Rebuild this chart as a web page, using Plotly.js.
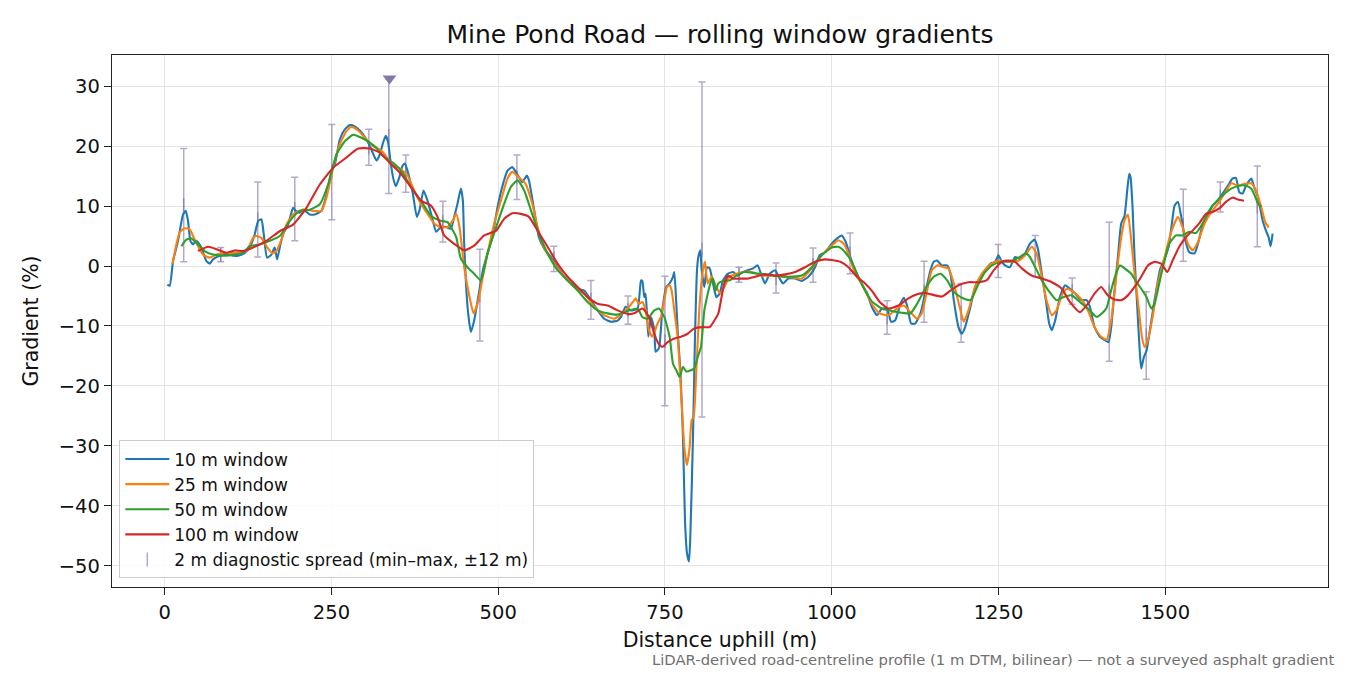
<!DOCTYPE html>
<html>
<head>
<meta charset="utf-8">
<script src="https://cdn.plot.ly/plotly-3.0.1.min.js"></script>
<style>
  html, body { margin:0; padding:0; background:#fff; }
  #chart { width:1350px; height:675px; }
</style>
</head>
<body>
<div id="chart"></div>
<script>
// ── Rolling-window gradient series (distance m, gradient %) ──────────────────
const w10x = [4,7.5,12.5,20,27.5,31.5,35,38.5,42.5,47.5,55,62.5,67.5,72.5,82.5,92.5,102.5,110,120,127.5,135,140,145,148.5,153.5,160,165,168.5,172.5,177.5,185,192.5,196.5,202.5,207.5,217.5,225,235,242.5,250,255,262.5,270,277.5,285,292.5,302.5,310,317.5,322.5,327.5,331.5,335,338.5,342.5,346.5,351.5,356.5,360,364,372,378,382,388,394,402,407,414,422,429,434,439,444,447,449,454,459,464,470,477,484,491,499,506,514,521,528,536,543,546,554,561,569,579,589,599,609,619,629,639,649,659,669,679,684,691,699,709,714,716,719,721,725,729,734,736,741,746,752,757,762,764,767,769,773,777,780,783,786,788,792,795,798,800,803,805,809,813,817,822,827,832,837,844,852,859,867,874,882,889,894,900,907,915,922,927,935,945,955,965,975,982,990,1000,1008,1015,1021,1028,1035,1045,1053,1060,1068,1075,1083,1089,1095,1103,1108,1113,1119,1125,1133,1140,1148,1153,1158,1165,1173,1178,1183,1190,1195,1200,1208,1215,1223,1230,1238,1245,1250,1255,1260,1267,1275,1282,1290,1297,1304,1309,1315,1321,1326,1330,1335,1342,1350,1357,1365,1374,1382,1387,1394,1402,1410,1415,1419,1424,1429,1434,1439,1443,1446,1448,1451,1454,1458,1462,1464,1468,1472,1477,1484,1492,1499,1505,1510,1514,1519,1524,1530,1536,1544,1549,1556,1564,1571,1579,1586,1594,1601,1606,1611,1616,1621,1629,1634,1639,1646,1651,1655,1658,1661];
const w10y = [-3.1,-3.3,0.8,4.2,8.6,9.2,7.5,4.2,3.6,4.2,3.1,0.8,0.4,1.1,1.7,1.9,1.7,1.7,2.2,3.1,5.3,7.5,7.8,5.3,1.4,1.9,3.1,1.1,3.1,5.3,6.9,9.7,9.2,8.9,9.4,8.6,8.6,9.2,11.9,15.8,16.9,21.1,22.8,23.5,23.3,22.6,21.1,19.4,17.6,18.6,20.6,21.7,20.6,17.5,14.7,13.3,14.7,16.7,17.1,15.9,12.1,8.2,9.3,12.6,10.9,7.6,5.7,6.5,6.5,6.2,8.2,10.4,12.9,10.9,3.7,-6.8,-11,-9.1,-5.2,-0.7,2.1,4.8,9.8,13.2,15.9,16.5,15.4,14.0,15.1,14.3,9.3,4.8,2.9,1.5,-0.2,-1.8,-2.9,-3.8,-4.1,-5.7,-7.4,-8.8,-9.3,-9.1,-8.5,-6.8,-7.4,-7.1,-2.4,-2.5,-5.2,-4.6,-11.8,-8.5,-10.7,-14.3,-13.7,-7.4,-3.5,-2.9,-1.8,-1.0,-6.3,-10.7,-17.4,-28.5,-42.4,-47.9,-49.3,-45.2,-28.5,-11.8,-0.7,1.5,2.6,-0.7,-3.5,-0.2,-0.4,-2.9,-5.2,-4.6,-2.4,-1.3,-1.0,-1.6,-1.0,-0.7,-0.4,0.1,-1.3,-2.9,-1.3,-0.7,-2.1,-2.9,-2.1,-2.1,-2.5,-1.8,-0.2,1.8,2.3,3.7,4.6,5.1,4.0,1.5,-0.7,-3.0,-4.5,-6.8,-8.2,-7.1,-7.1,-9.3,-9.1,-6.3,-5.3,-6.6,-9.6,-9.6,-7.9,-4.6,-0.7,0.7,0.9,0.1,0.1,-1.3,-5.7,-10.2,-11.3,-10.2,-6.8,-3.5,-1.8,-0.7,0.4,0.7,1.8,0.7,0.1,-0.2,1.5,1.2,2.1,3.7,4.4,2.9,-1.3,-5.7,-9.6,-10.7,-9.1,-5.2,-3.2,-3.8,-4.6,-5.7,-5.7,-6.8,-10.2,-11.8,-12.4,-12.7,-10.2,-4.1,1.5,7.1,8.4,12.6,15.4,14.8,9.8,1.5,-6.8,-14.6,-17.1,-15.2,-14.1,-10.7,-5.7,-0.7,1.2,3.2,7.1,10.1,10.7,8.2,4.3,2.3,2.1,3.7,6.8,8.4,10.1,10.9,12.1,13.4,14.6,14.7,12.3,12.1,13.4,14.6,12.9,11.5,7.6,5.9,4.8,3.3,5.4];

const w25x = [11.5,17.5,22.5,30,37.5,42.5,50,57.5,67.5,77.5,92.5,107.5,122.5,132.5,137.5,145,152.5,161.5,167.5,175,182.5,192.5,202.5,212.5,222.5,235,242.5,252.5,262.5,272.5,280,290,302.5,312.5,322.5,330,340,352.5,364,374,384,394,404,414,424,432,437,442,449,457,463,469,477,484,494,504,514,521,531,541,551,559,569,584,599,614,629,644,659,674,686,694,704,706,711,716,721,726,731,739,744,748,753,757,760,764,769,774,779,783,787,790,793,797,802,807,810,814,820,827,833,839,847,857,867,880,895,910,925,940,955,970,985,1000,1010,1018,1025,1035,1045,1060,1072,1085,1098,1108,1118,1128,1135,1143,1150,1158,1168,1175,1183,1193,1198,1205,1215,1225,1238,1250,1265,1280,1290,1300,1307,1315,1322,1330,1337,1345,1352,1362,1374,1384,1394,1404,1412,1419,1427,1434,1439,1444,1449,1454,1460,1465,1469,1474,1482,1489,1499,1509,1519,1526,1534,1541,1549,1559,1569,1579,1589,1599,1609,1619,1629,1636,1644,1650,1655];
const w25y = [0.3,3.6,5.6,6.3,6.1,5.0,3.3,1.9,1.4,1.9,2.2,2.2,2.5,4.7,5.0,4.7,3.3,2.1,2.5,4.4,6.9,8.6,9.2,9.4,9.2,9.2,11.4,16.4,20.3,22.5,23.2,22.6,21.1,20.0,19.4,18.6,16.9,16.3,15.1,12.6,10.4,8.7,7.1,6.5,6.5,7.6,8.7,6.5,-0.2,-5.2,-7.9,-6.3,-1.8,2.1,7.1,10.9,14.6,15.7,14.8,13.7,10.4,6.5,2.9,0.4,-1.8,-3.5,-4.6,-6.8,-8.2,-8.8,-7.9,-7.1,-5.7,-5.4,-6.3,-6.0,-7.4,-10.7,-11.8,-9.6,-8.5,-6.3,-3.5,-3.2,-4.1,-7.4,-11.8,-20.7,-30.2,-33.2,-30.2,-25.7,-25.2,-17.4,-6.3,-0.7,0.7,-2.9,-1.8,-3.5,-4.6,-3.5,-1.8,-1.3,-1.0,-1.0,-1.6,-1.6,-1.8,-1.9,-2.1,-0.4,1.8,3.4,4.3,3.7,2.1,-1.3,-3.0,-6.3,-7.9,-8.2,-7.1,-6.6,-7.7,-8.8,-7.9,-4.1,-0.7,0.1,-0.2,-0.4,-2.9,-7.4,-9.3,-7.4,-3.5,-1.3,0.3,0.9,0.7,0.9,1.8,3.2,2.1,-1.8,-5.7,-8.2,-7.4,-4.9,-3.8,-4.3,-5.5,-7.4,-10.2,-11.8,-12.3,-9.1,-1.3,4.8,7.6,8.6,4.3,-1.3,-6.8,-11.8,-13.5,-12.4,-7.9,-2.9,1.5,5.7,8.2,6.5,3.7,2.6,4.0,7.1,9.0,10.4,12.1,13.8,13.4,13.7,13.8,12.6,9.8,7.3,6.4];

const w50x = [25,32.5,40,50,60,72.5,87.5,102.5,117.5,127.5,142.5,157.5,172.5,187.5,202.5,217.5,232.5,245,257.5,270,282.5,295,307.5,317.5,327.5,342.5,357,369,384,399,412,424,429,437,444,454,464,474,484,497,509,519,529,539,549,561,574,589,604,619,634,649,664,679,694,709,716,724,734,741,749,757,762,767,772,777,782,789,794,799,804,809,813,818,822,826,830,837,847,857,869,885,900,915,935,955,970,985,1000,1010,1020,1030,1040,1050,1060,1075,1090,1105,1118,1128,1140,1153,1163,1173,1183,1195,1208,1218,1228,1240,1255,1270,1282,1291,1297,1305,1315,1325,1337,1347,1360,1372,1385,1397,1404,1412,1419,1427,1432,1439,1449,1457,1464,1472,1479,1484,1492,1499,1506,1516,1526,1536,1546,1556,1566,1576,1586,1599,1611,1621,1629,1634,1639,1644];
const w50y = [3.3,4.4,4.6,3.6,2.5,1.9,1.7,1.9,2.2,3.3,3.6,4.2,5.0,7.5,9.2,9.4,10.3,13.6,18.6,20.8,21.9,21.4,20.6,19.7,18.3,17.2,15.5,13.2,10.9,8.4,7.6,7.3,6.5,4.8,1.2,-0.2,-1.3,-2.4,2.1,6.5,10.4,13.2,14.3,12.6,9.3,5.4,2.1,-0.7,-2.4,-4.1,-6.0,-7.4,-7.9,-8.1,-7.5,-7.1,-8.5,-8.8,-7.4,-7.1,-8.5,-11.8,-16.3,-17.4,-18.5,-16.8,-17.6,-17.4,-17.1,-15.2,-13.5,-7.4,-5.2,-2.9,-2.1,-4.1,-2.9,-2.5,-2.4,-1.6,-1.0,-1.2,-1.4,-1.6,-1.8,-1.6,-0.2,1.8,3.1,3.2,2.3,0.7,-1.8,-4.1,-5.9,-7.1,-7.5,-7.8,-7.9,-6.3,-3.8,-1.8,-1.3,-2.4,-4.3,-5.3,-5.7,-3.5,-1.3,0.1,0.7,0.8,1.5,2.1,1.5,-0.2,-2.4,-4.1,-5.7,-5.2,-4.9,-6.0,-7.2,-8.5,-8.0,-7.0,-4.0,-1.0,0.1,-0.4,-1.3,-2.7,-3.8,-5.2,-7.1,-6.3,-2.4,0.9,3.7,5.1,5.1,5.7,5.5,7.1,9.3,10.7,11.8,12.9,13.4,13.4,12.9,11.8,10.4,9.9];

const w100x = [50,65,77.5,92.5,105,117.5,132.5,152.5,172.5,192.5,212.5,232.5,252.5,272.5,290,307.5,322.5,337.5,354,369,384,399,409,419,434,449,464,479,497,509,521,534,546,559,574,589,604,619,634,649,664,679,694,704,716,726,734,740,746,754,764,774,784,794,807,817,824,830,834,839,845,852,864,874,885,900,915,930,945,960,975,990,1000,1013,1025,1038,1050,1060,1072,1085,1100,1115,1128,1140,1155,1165,1178,1190,1205,1220,1233,1243,1255,1265,1275,1285,1300,1315,1330,1345,1357,1372,1384,1394,1404,1414,1424,1434,1444,1454,1464,1474,1484,1494,1503,1511,1521,1531,1541,1551,1561,1571,1581,1591,1601,1609,1618];
const w100y = [2.5,3.2,2.8,2.2,2.6,2.5,3.1,4.2,5.8,6.9,9.7,13.6,16.4,18.1,19.6,19.6,18.9,17.2,15.4,13.2,10.9,10.1,8.2,5.1,3.7,2.6,3.4,5.1,5.9,7.9,8.8,8.7,8.2,5.9,3.2,0.4,-1.8,-3.5,-5.2,-6.3,-6.6,-7.4,-8.0,-7.9,-7.1,-8.5,-11.3,-12.9,-13.5,-12.7,-12.1,-11.8,-11.3,-10.4,-10.2,-10.2,-9.1,-7.9,-5.7,-2.9,-1.6,-2.1,-2.1,-2.1,-1.8,-1.4,-1.6,-1.4,-1.0,-0.2,0.7,1.1,1.0,0.7,-0.2,-1.8,-2.9,-4.1,-6.0,-7.1,-6.6,-5.4,-4.7,-4.5,-4.9,-5.1,-4.1,-3.2,-2.7,-2.7,-2.3,-0.7,0.7,0.9,0.7,-0.4,-1.6,-2.1,-2.7,-3.8,-6.0,-7.7,-6.3,-4.6,-3.5,-4.9,-5.6,-5.7,-4.9,-3.5,-1.8,0.1,0.7,0.4,-1.0,0.9,3.2,4.8,5.9,7.1,8.7,9.0,9.6,10.7,11.4,11.1,10.9];

// ── 2 m diagnostic spread (min / max within ±12 m) ───────────────────────────
const spreadX  = [28.5,84,139.5,195,250.5,306,336,361.5,417,472.5,528,583.5,639,694.5,750,805.5,861,916.5,972,1027.5,1083,1138.5,1194,1249.5,1305,1360.5,1416,1471.5,1527,1582.5,1638];
const spreadLo = [0.7,0.7,1.5,4.2,7.7,16.8,12.1,12.3,4.0,-12.5,11.1,-0.9,-8.9,-9.7,-23.3,-25.2,-2.7,-4.5,-2.7,-1.3,-11.4,-9.4,-12.7,-1.9,-1.8,-6.4,-15.9,-18.9,0.8,9.0,3.2];
const spreadHi = [19.6,3.1,14.0,14.8,23.6,22.8,31.3,18.5,10.8,2.8,18.5,3.3,-2.4,-5.0,-1.7,30.7,-0.2,0.5,3.0,5.5,-5.8,0.8,-2.9,3.6,5.1,-2.0,7.3,-4.3,12.8,14.0,16.7];

// spread that runs off the top of the axis
const clipX = [337];
const clipY = [31.3];

const LABELS = ['10 m window','25 m window','50 m window','100 m window'];
const COLS   = ['#1f77b4','#ff7f0e','#2ca02c','#d62728'];
const SPREAD_COL = 'rgba(118,98,158,0.55)';
const FONT = 'DejaVu Sans, sans-serif';

// ── Helpers ──────────────────────────────────────────────────────────────────
function lineTrace(xs, ys, i) {
  return { x:xs, y:ys, type:'scatter', mode:'lines', name:LABELS[i],
           line:{ color:COLS[i], width:2.1, shape:'spline', smoothing:0.5 },
           legendgroup:'g'+i, legendrank:i+1, hoverinfo:'skip' };
}

const mid = spreadLo.map((lo, i) => (lo + spreadHi[i]) / 2);
const spreadTrace = {
  x:spreadX, y:mid, type:'scatter', mode:'markers',
  name:'2 m diagnostic spread (min\u2013max, \u00b112 m)',
  legendgroup:'g5', legendrank:5,
  marker:{ symbol:'line-ns-open', size:10, color:SPREAD_COL, line:{ color:SPREAD_COL, width:1.5 } },
  error_y:{ type:'data', symmetric:false,
            array:spreadHi.map((h, i) => h - mid[i]),
            arrayminus:spreadLo.map((l, i) => mid[i] - l),
            color:SPREAD_COL, thickness:1.5, width:3.5 },
  hoverinfo:'skip',
};

const clipTrace = {
  x:clipX, y:clipY, type:'scatter', mode:'markers', showlegend:false,
  marker:{ symbol:'triangle-down', size:12, color:'#8677a8' }, hoverinfo:'skip',
};

const traces = [spreadTrace,
  lineTrace(w10x, w10y, 0), lineTrace(w25x, w25y, 1),
  lineTrace(w50x, w50y, 2), lineTrace(w100x, w100y, 3), clipTrace];

const AXIS = { showgrid:true, gridcolor:'#e4e4e4', gridwidth:1, zeroline:false,
  showline:true, linecolor:'#222', linewidth:1.4, mirror:true,
  ticks:'outside', ticklen:7, tickwidth:1.3, tickcolor:'#222',
  tickfont:{ family:FONT, size:19.5, color:'#111' } };

Plotly.newPlot('chart', traces, {
  width:1350, height:675,
  paper_bgcolor:'#fff', plot_bgcolor:'#fff',
  font:{ family:FONT, color:'#111' },
  margin:{ t:55, r:22, b:88, l:112 },
  title:{ text:'Mine Pond Road \u2014 rolling window gradients',
          font:{ family:FONT, size:25, color:'#111' },
          x:0.5, xref:'paper', y:1 - 34/675, yref:'container', yanchor:'middle' },
  xaxis:{ ...AXIS, range:[-79, 1744], tickvals:[0,250,500,750,1000,1250,1500],
          title:{ text:'Distance uphill (m)', font:{ family:FONT, size:20.5 }, standoff:10 } },
  yaxis:{ ...AXIS, range:[-53.55, 35.2], tickvals:[-50,-40,-30,-20,-10,0,10,20,30],
          title:{ text:'Gradient (%)', font:{ family:FONT, size:20.5 }, standoff:14 } },
  showlegend:true,
  legend:{ x:0.006, y:0.016, xanchor:'left', yanchor:'bottom',
           bgcolor:'rgba(255,255,255,0.85)', bordercolor:'#cccccc', borderwidth:1,
           font:{ family:FONT, size:17, color:'#111' },
           traceorder:'grouped', tracegroupgap:0, itemwidth:44 },
  annotations:[{
    text:'LiDAR-derived road-centreline profile (1 m DTM, bilinear) \u2014 not a surveyed asphalt gradient',
    xref:'paper', yref:'paper', x:1.0066, y:-0.137, xanchor:'right', yanchor:'middle',
    showarrow:false, font:{ family:FONT, size:14.8, color:'#707070' } }],
}, { displayModeBar:false, responsive:false });
</script>
</body>
</html>
